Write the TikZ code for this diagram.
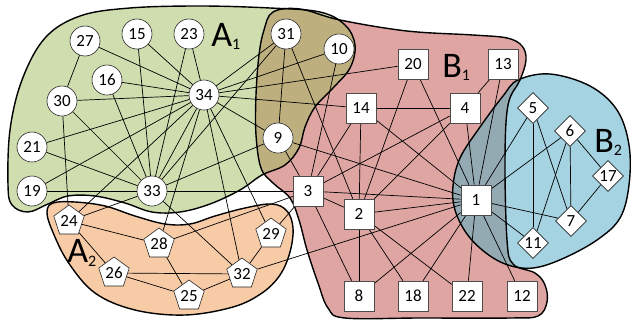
\documentclass[tikz,border=0pt]{standalone}
\usepackage{fontspec}
\setmainfont{Carlito}
\usetikzlibrary{shapes.geometric}
\definecolor{cAone}{RGB}{207,221,175}
\definecolor{cAtwo}{RGB}{248,203,167}
\definecolor{cBone}{RGB}{222,165,162}
\definecolor{cBtwo}{RGB}{165,211,226}
\definecolor{cAB}{RGB}{190,176,126}
\definecolor{cBB}{RGB}{148,170,178}
\pgfdeclarelayer{bg}
\pgfdeclarelayer{edges}
\pgfsetlayers{bg,edges,main}
\newcommand\blobAone{plot[smooth cycle, tension=0.6] coordinates {(8,185) (10,130) (22,80) (45,38) (80,16) (130,8) (200,6) (270,8) (320,12) (345,25) (355,45) (350,68) (333,88) (315,107) (305,127) (299,148) (285,165) (262,175) (240,190) (210,204) (180,212) (152,212) (125,203) (95,196) (68,196) (48,204) (28,212) (12,205)}}
\newcommand\blobBone{plot[smooth cycle, tension=0.6] coordinates {(273,12) (300,9) (340,20) (407,31) (473,35) (507,38) (522,46) (526,60) (520,80) (508,105) (505,160) (507,240) (513,264) (535,273) (545,285) (547,302) (538,316) (510,318) (420,318) (345,318) (328,308) (318,283) (307,250) (299,220) (290,198) (273,183) (261,168) (256,135) (256,95) (259,55) (264,30)}}
\newcommand\blobAtwo{plot[smooth cycle, tension=0.6] coordinates {(53,203) (75,202) (105,206) (135,216) (165,224) (190,224) (215,216) (245,208) (272,204) (287,211) (293,228) (290,252) (280,275) (262,293) (233,307) (185,315) (135,310) (95,293) (68,262) (52,230) (47,212)}}
\newcommand\blobBtwo{plot[smooth cycle, tension=0.6] coordinates {(518,80) (550,74) (590,86) (617,110) (629,145) (629,185) (620,218) (597,240) (562,259) (533,268) (508,265) (486,253) (467,234) (455,210) (453,186) (460,158) (480,127) (503,96)}}
\begin{document}
\begin{tikzpicture}[x=1pt,y=-1pt,
  every node/.style={font=\fontsize{17}{17}\selectfont, inner sep=0pt, fill=white, draw=black!85, line width=0.6pt},
  cnode/.style={circle, minimum size=30pt},
  snode/.style={rectangle, minimum width=30pt, minimum height=30pt, draw=black!70},
  dnode/.style={diamond, minimum width=31pt, minimum height=31pt, aspect=1},
  pnode/.style={regular polygon, regular polygon sides=5, minimum size=32pt},
  edge/.style={line width=0.7pt, black},
  blob/.style={line width=1.4pt, black},
  lbl/.style={draw=none, fill=none, font=\fontsize{36}{36}\selectfont, anchor=base west, inner sep=0pt}
]
\useasboundingbox (0,0) rectangle (631,327);
\begin{pgfonlayer}{bg}
  \fill[white] (0,0) rectangle (631,327);
  \fill[cAone] \blobAone;
  \fill[cAtwo] \blobAtwo;
  \fill[cBone] \blobBone;
  \fill[cBtwo] \blobBtwo;
  \begin{scope}
    \clip \blobBone;
    \fill[cAB] \blobAone;
    \fill[cBB] \blobBtwo;
  \end{scope}
  \draw[blob] \blobAone;
  \draw[blob] \blobAtwo;
  \draw[blob] \blobBone;
  \draw[blob] \blobBtwo;
\end{pgfonlayer}

\node[snode] (n1) at (476,200) {1};
\node[snode] (n2) at (359,214) {2};
\node[snode] (n3) at (308,191) {3};
\node[snode] (n4) at (465,108) {4};
\node[dnode] (n5) at (533,108) {5};
\node[dnode] (n6) at (570,131) {6};
\node[dnode] (n7) at (571,221) {7};
\node[snode] (n8) at (359,296) {8};
\node[cnode] (n9) at (278,138) {9};
\node[cnode] (n10) at (339,49) {10};
\node[dnode] (n11) at (533,243) {11};
\node[snode] (n12) at (522,296) {12};
\node[snode] (n13) at (503,64) {13};
\node[snode] (n14) at (361,108) {14};
\node[cnode] (n15) at (137,34) {15};
\node[cnode] (n16) at (107,80) {16};
\node[dnode] (n17) at (608,176) {17};
\node[snode] (n18) at (413,296) {18};
\node[cnode] (n19) at (32,191) {19};
\node[snode] (n20) at (413,64) {20};
\node[cnode] (n21) at (32,147) {21};
\node[snode] (n22) at (467,296) {22};
\node[cnode] (n23) at (189,34) {23};
\node[pnode] (n24) at (69,221) {24};
\node[pnode] (n25) at (189,296) {25};
\node[pnode] (n26) at (114,273) {26};
\node[cnode] (n27) at (85,41) {27};
\node[pnode] (n28) at (159,244) {28};
\node[pnode] (n29) at (271,234) {29};
\node[cnode] (n30) at (62,101) {30};
\node[cnode] (n31) at (286,34) {31};
\node[pnode] (n32) at (242,274) {32};
\node[cnode] (n33) at (152,191) {33};
\node[cnode] (n34) at (204,95) {34};

\node[lbl] (lA1) at (211,46) {A{\fontsize{16}{16}\selectfont\raisebox{-3pt}{1}}};
\node[lbl] (lB1) at (442,77) {B{\fontsize{16}{16}\selectfont\raisebox{-3pt}{1}}};
\node[lbl] (lB2) at (594,152) {B{\fontsize{16}{16}\selectfont\raisebox{-3pt}{2}}};
\node[lbl] (lA2) at (67,262) {A{\fontsize{16}{16}\selectfont\raisebox{-4pt}{2}}};

\begin{pgfonlayer}{edges}
\foreach \a/\b in {1/2,1/3,1/4,1/5,1/6,1/7,1/8,1/9,1/11,1/12,1/13,1/14,1/18,1/20,1/22,1/32,
  2/3,2/4,2/8,2/14,2/18,2/20,2/22,2/31,
  3/4,3/8,3/9,3/10,3/14,3/28,3/29,3/33,
  4/13,4/14,5/7,5/11,6/7,6/11,6/17,7/17,
  9/31,9/33,9/34,10/34,14/34,15/33,15/34,16/33,16/34,19/33,19/34,20/34,21/33,21/34,23/33,23/34,
  24/26,24/28,24/30,24/33,24/34,25/26,25/28,25/32,26/32,27/30,27/34,28/34,29/32,29/34,
  30/33,30/34,31/33,31/34,32/33,32/34,33/34}
  \draw[edge] (n\a) -- (n\b);
\end{pgfonlayer}
\end{tikzpicture}
\end{document}
